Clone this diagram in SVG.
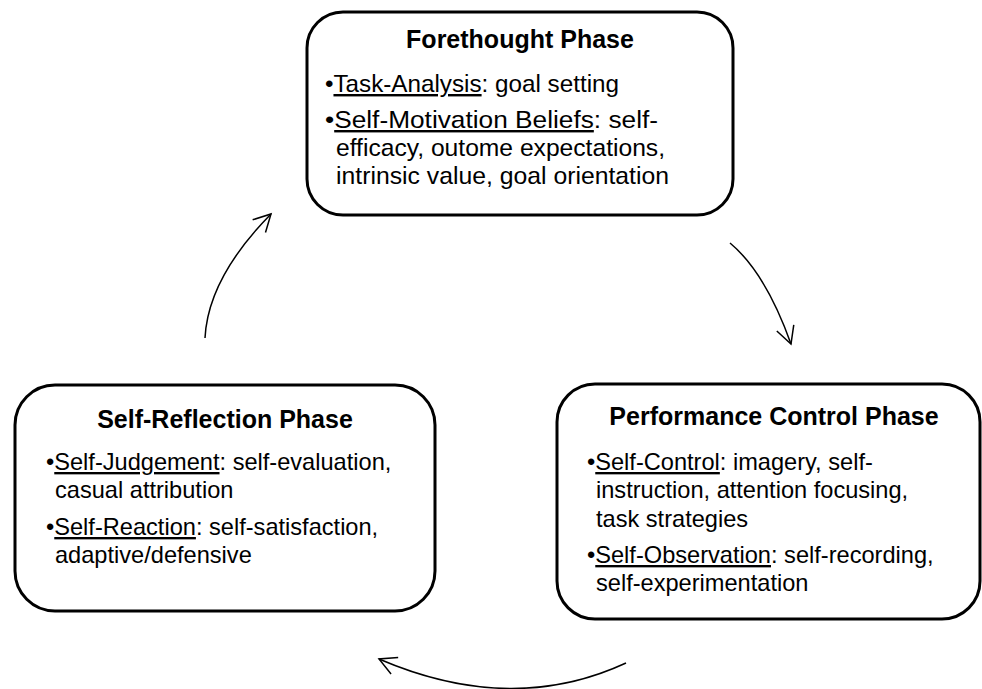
<svg xmlns="http://www.w3.org/2000/svg" width="982" height="689" viewBox="0 0 982 689">
  <style>
    .box { fill: #ffffff; stroke: #000000; stroke-width: 3; }
    .title { font-family: "Liberation Sans", Arial, sans-serif; font-weight: bold; font-size: 25px; fill: #000; text-anchor: middle; }
    .body { font-family: "Liberation Sans", Arial, sans-serif; font-size: 23.6px; fill: #000; }
    .wide { font-size: 24.2px; }
    .u { text-decoration: underline; }
    .link { fill: none; stroke: #000; stroke-width: 1.5; }
  </style>
  <defs>
    <marker id="openArrow" markerUnits="userSpaceOnUse" markerWidth="24" markerHeight="24" viewBox="-20 -12 24 24" refX="0" refY="0" orient="auto">
      <path d="M -17 -9 L 0 0 L -17 9" fill="none" stroke="#000" stroke-width="1.5"/>
    </marker>
  </defs>
  <rect width="982" height="689" fill="#ffffff"/>

  <!-- cycle connectors -->
  <g id="connectors">
    <path class="link" d="M 205 338 Q 208 278 271 214" marker-end="url(#openArrow)"/>
    <path class="link" d="M 730 243 Q 765.5 272.5 791 344" marker-end="url(#openArrow)"/>
    <path class="link" d="M 626 663 Q 511.5 716 379 659" marker-end="url(#openArrow)"/>
  </g>

  <!-- Forethought -->
  <g id="forethought">
    <rect class="box" x="307" y="12" width="426" height="203" rx="36" ry="36"/>
    <text class="title" x="520" y="48">Forethought Phase</text>
    <text class="body wide" x="325" y="92" textLength="294" lengthAdjust="spacingAndGlyphs">•<tspan class="u">Task-Analysis</tspan>: goal setting</text>
    <text class="body wide" x="325" y="128" textLength="333" lengthAdjust="spacingAndGlyphs">•<tspan class="u">Self-Motivation Beliefs</tspan>: self-</text>
    <text class="body wide" x="336" y="156" textLength="329" lengthAdjust="spacingAndGlyphs">efficacy, outome expectations,</text>
    <text class="body wide" x="336" y="184" textLength="333" lengthAdjust="spacingAndGlyphs">intrinsic value, goal orientation</text>
  </g>

  <!-- Performance Control -->
  <g id="performance">
    <rect class="box" x="557" y="384" width="423" height="235" rx="38" ry="38"/>
    <text class="title" x="774" y="425">Performance Control Phase</text>
    <text class="body" x="587" y="470">•<tspan class="u">Self-Control</tspan>: imagery, self-</text>
    <text class="body" x="596" y="498">instruction, attention focusing,</text>
    <text class="body" x="596" y="527">task strategies</text>
    <text class="body" x="587" y="563">•<tspan class="u">Self-Observation</tspan>: self-recording,</text>
    <text class="body" x="596" y="591">self-experimentation</text>
  </g>

  <!-- Self-Reflection -->
  <g id="reflection">
    <rect class="box" x="15" y="385" width="420" height="226" rx="40" ry="40"/>
    <text class="title" x="225" y="428">Self-Reflection Phase</text>
    <text class="body" x="46" y="470">•<tspan class="u">Self-Judgement</tspan>: self-evaluation,</text>
    <text class="body" x="55" y="498">casual attribution</text>
    <text class="body" x="46" y="535">•<tspan class="u">Self-Reaction</tspan>: self-satisfaction,</text>
    <text class="body" x="55" y="563">adaptive/defensive</text>
  </g>
</svg>
